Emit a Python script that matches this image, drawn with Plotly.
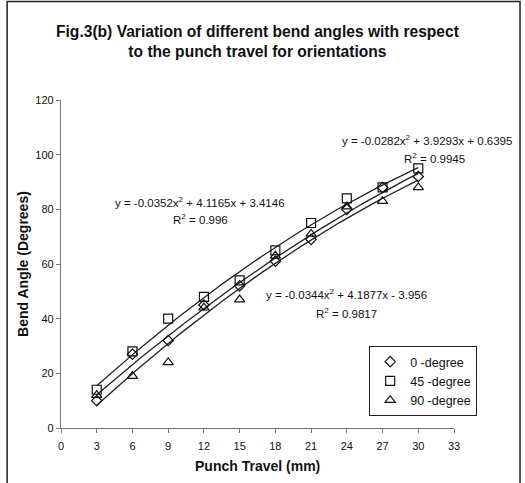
import numpy as np
import plotly.graph_objects as go

# ---- data ----
punch_travel = [3, 6, 9, 12, 15, 18, 21, 24, 27, 30]
angle_0 = [10, 27, 32, 45, 52, 61, 69, 80, 88, 92]
angle_45 = [14, 28, 40, 48, 54, 65, 75, 84, 88, 95]
angle_90 = [12, 19, 24, 44, 47, 63, 71, 81, 83, 88]

series_names = ["0 -degree", "45 -degree", "90 -degree"]
# trendline coefficients (a, b, c) as printed on the chart: y = a x^2 + b x + c
coef_0 = [-0.0282, 3.9293, 0.6395]
coef_45 = [-0.0352, 4.1165, 3.4146]
coef_90 = [-0.0344, 4.1877, -3.956]
eq_lines = [
    "y = -0.0282x<sup>2</sup> + 3.9293x + 0.6395",
    "y = -0.0352x<sup>2</sup> + 4.1165x + 3.4146",
    "y = -0.0344x<sup>2</sup> + 4.1877x - 3.956",
]
r2_lines = ["R<sup>2</sup> = 0.9945", "R<sup>2</sup> = 0.996", "R<sup>2</sup> = 0.9817"]
# (x of equation, x of R2, y of equation, y of R2)
eq_pos = [(30.7, 31.4, 105.2, 98.6), (11.7, 11.7, 82.8, 76.3), (24.0, 24.0, 49.0, 42.1)]

x_ticks = list(range(0, 34, 3))
y_ticks = list(range(0, 121, 20))

FONT = "Liberation Sans, Arial, sans-serif"
fig = go.Figure()

# trendlines
xs = np.linspace(punch_travel[0], punch_travel[-1], 100)
for c in (coef_0, coef_45, coef_90):
    ys = c[0] * xs ** 2 + c[1] * xs + c[2]
    fig.add_trace(go.Scatter(x=xs, y=ys, mode="lines",
                             line=dict(color="#222222", width=1.3),
                             showlegend=False, hoverinfo="skip"))

symbols = ["diamond-open", "square-open", "triangle-up-open"]
sizes = [8, 9, 9]
for name, vals, sym, sz in zip(series_names, [angle_0, angle_45, angle_90], symbols, sizes):
    fig.add_trace(go.Scatter(x=punch_travel, y=vals, mode="markers", name=name,
                             marker=dict(symbol=sym, size=sz, color="#111111",
                                         line=dict(color="#111111", width=1.2))))

for eq, r2, (ax1, ax2, ay1, ay2) in zip(eq_lines, r2_lines, eq_pos):
    fig.add_annotation(x=ax1, y=ay1, xref="x", yref="y", text=eq, showarrow=False,
                       xanchor="center", yanchor="middle",
                       font=dict(family=FONT, size=11.5, color="#111111"))
    fig.add_annotation(x=ax2, y=ay2, xref="x", yref="y", text=r2, showarrow=False,
                       xanchor="center", yanchor="middle",
                       font=dict(family=FONT, size=11.5, color="#111111"))

# title
fig.add_annotation(x=0.5, y=1.177, xref="paper", yref="paper",
                   text="<b>Fig.3(b) Variation of different bend angles with respect<br>to the punch travel for orientations</b>",
                   showarrow=False, xanchor="center", yanchor="middle",
                   font=dict(family=FONT, size=15.6, color="#111111"))
# axis titles
fig.add_annotation(x=0.5, y=-0.116, xref="paper", yref="paper", text="<b>Punch Travel (mm)</b>",
                   showarrow=False, xanchor="center", yanchor="middle",
                   font=dict(family=FONT, size=14, color="#111111"))
fig.add_annotation(x=-0.097, y=0.5, xref="paper", yref="paper", text="<b>Bend Angle (Degrees)</b>",
                   textangle=-90, showarrow=False, xanchor="center", yanchor="middle",
                   font=dict(family=FONT, size=14, color="#111111"))

# outer frame
fig.add_shape(type="rect", xref="paper", yref="paper", x0=-0.137, x1=1.168, y0=-0.25, y1=1.3,
              line=dict(color="#222222", width=1.5), layer="below")

fig.update_layout(
    width=525, height=483,
    margin=dict(l=61, r=71, t=100, b=55),
    paper_bgcolor="white", plot_bgcolor="white",
    font=dict(family=FONT, size=11, color="#111111"),
    xaxis=dict(range=[0, 33], tickvals=x_ticks, showgrid=False, zeroline=False,
               showline=True, linecolor="#777777", linewidth=1.2, ticks="outside",
               ticklen=4, tickcolor="#777777", tickfont=dict(size=11),
               ticklabelstandoff=4),
    yaxis=dict(range=[0, 120], tickvals=y_ticks, showgrid=False, zeroline=False,
               showline=True, linecolor="#777777", linewidth=1.2, ticks="outside",
               ticklen=4, tickcolor="#777777", tickfont=dict(size=11)),
    legend=dict(x=1.059, xanchor="right", y=0.25, yanchor="top",
                bordercolor="#222222", borderwidth=1, bgcolor="white",
                font=dict(family=FONT, size=12.5, color="#111111"),
                itemwidth=30, tracegroupgap=0),
    showlegend=True,
)

fig.write_html("out.html")
